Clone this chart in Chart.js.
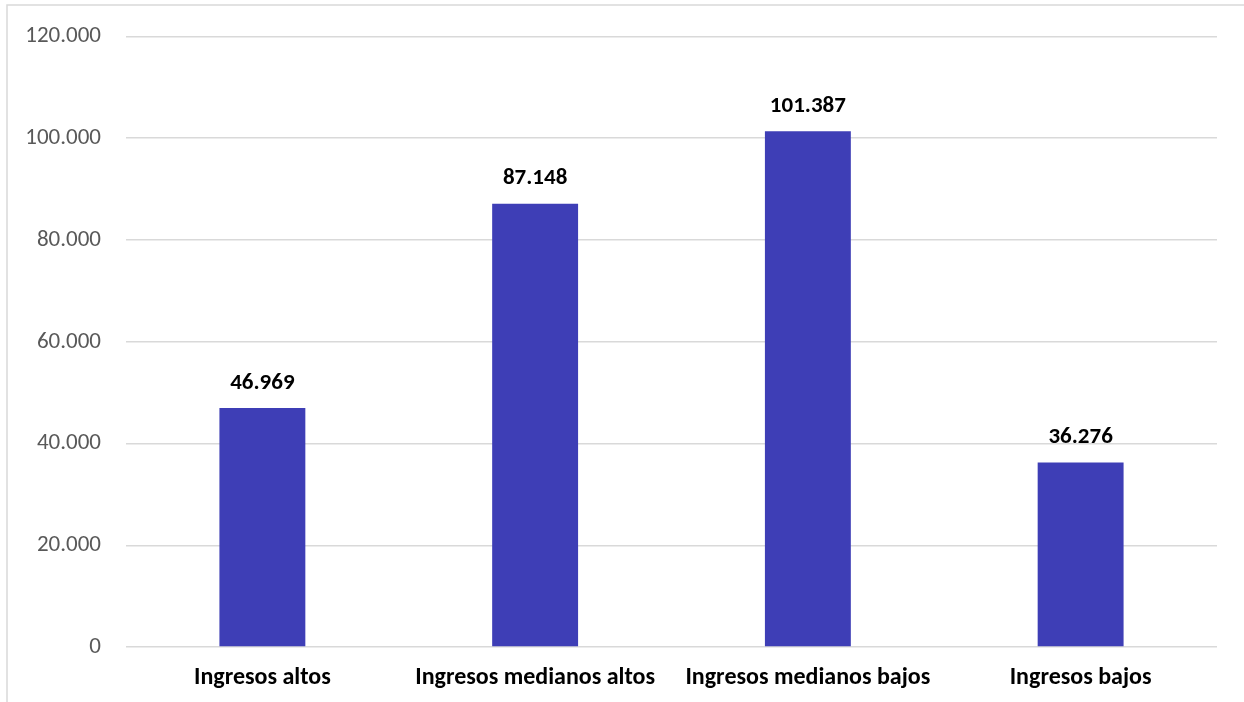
<!DOCTYPE html>
<html>
<head>
<meta charset="utf-8">
<script src="https://cdn.jsdelivr.net/npm/chart.js@4/dist/chart.umd.min.js"></script>
<style>
  html, body { margin: 0; padding: 0; background: #fff; }
  #wrap { width: 1244px; height: 702px; position: relative; }
</style>
</head>
<body>
<div id="wrap"><canvas id="chart" width="1244" height="702"></canvas></div>
<script>
// Data
const categories = ['Ingresos altos', 'Ingresos medianos altos', 'Ingresos medianos bajos', 'Ingresos bajos'];
const values = [46969, 87148, 101387, 36276];
const tickValues = [0, 20000, 40000, 60000, 80000, 100000, 120000];

const fontFamily = 'Carlito, Calibri, Lato, sans-serif';

// Spanish style thousands separator: 101387 -> 101.387
let fmt = (v) => String(Math.round(v)).replace(/\B(?=(\d{3})+(?!\d))/g, '.');

/* Frame around the chart, like the original picture */
const framePlugin = {
    id: 'frame',
    beforeDraw: (chart) => {
        const ctx = chart.ctx;
        ctx.save();
        ctx.fillStyle = 'white';
        ctx.fillRect(0, 0, chart.width, chart.height);
        ctx.strokeStyle = '#d9d9d9';
        ctx.lineWidth = 1.5;
        ctx.beginPath();
        ctx.moveTo(7, chart.height);
        ctx.lineTo(7, 5);
        ctx.lineTo(chart.width, 5);
        ctx.stroke();
        ctx.restore();
    }
};

/* Value labels above the bars */
const valueLabels = {
    id: 'valueLabels',
    afterDatasetsDraw: (chart) => {
        const ctx = chart.ctx;
        const meta = chart.getDatasetMeta(0);
        ctx.save();
        ctx.font = 'bold 23px ' + fontFamily;
        ctx.fillStyle = '#000';
        ctx.textAlign = 'center';
        ctx.textBaseline = 'middle';
        meta.data.forEach((bar, i) => {
            const p = bar.getProps(['x', 'y'], true);
            ctx.fillText(fmt(values[i]), p.x, p.y - 25);
        });
        ctx.restore();
    }
};

new Chart(document.getElementById('chart'), {
    type: 'bar',
    data: {
        labels: categories,
        datasets: [{
            data: values,
            backgroundColor: '#3e3eb6',
            borderWidth: 0,
            categoryPercentage: 1,
            barPercentage: 0.315
        }]
    },
    options: {
        responsive: false,
        animation: false,
        layout: { padding: { top: 30, right: 27, left: 0, bottom: 0 } },
        plugins: {
            legend: { display: false },
            tooltip: { enabled: false }
        },
        scales: {
            x: {
                grid: { display: false, drawTicks: false },
                border: { display: false },
                ticks: {
                    color: '#000',
                    padding: 17,
                    font: { family: fontFamily, size: 24, weight: 'bold' }
                },
                afterFit: (scale) => { scale.height = 55; }
            },
            y: {
                min: 0,
                max: 120000,
                afterBuildTicks: (scale) => {
                    scale.ticks = tickValues.map(v => ({ value: v }));
                },
                grid: { color: '#d9d9d9', lineWidth: 1.5, drawTicks: false },
                border: { display: false },
                ticks: {
                    color: '#595959',
                    padding: 25,
                    font: { family: fontFamily, size: 23, lineHeight: 1 },
                    callback: (v) => fmt(v)
                },
                afterFit: (scale) => { scale.width = 126; }
            }
        }
    },
    plugins: [framePlugin, valueLabels]
});
</script>
</body>
</html>
